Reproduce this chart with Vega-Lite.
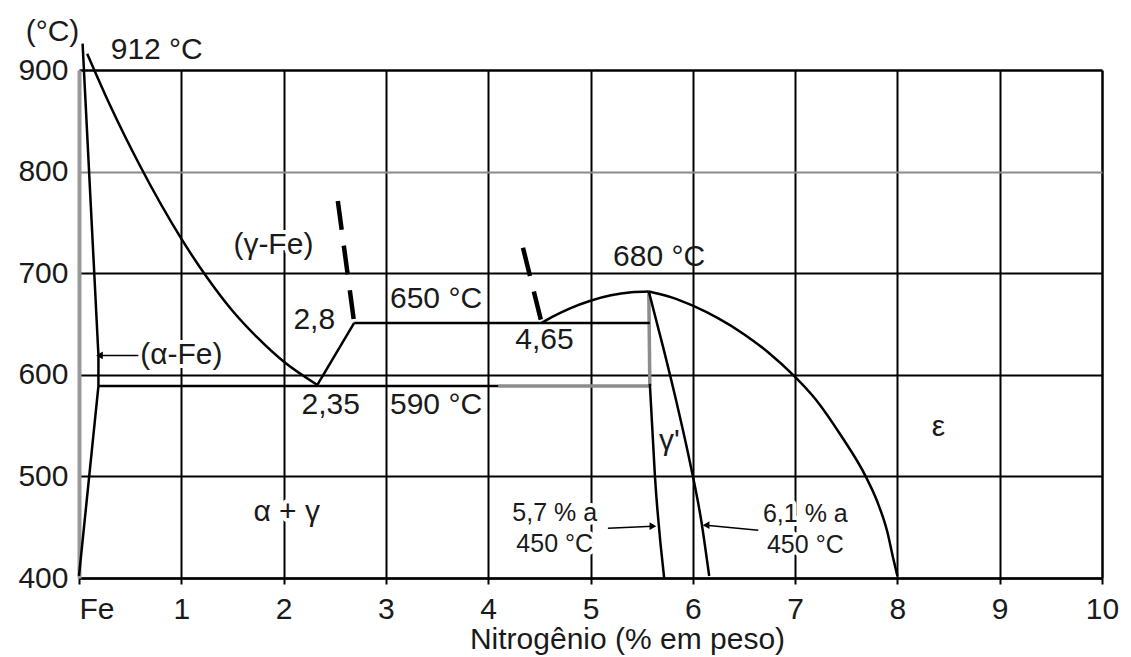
{
  "$schema": "https://vega.github.io/schema/vega-lite/v6.json",
  "width": 1023,
  "height": 508,
  "autosize": "none",
  "padding": {"left": 79, "top": 70, "right": 29, "bottom": 79},
  "background": "white",
  "config": {
    "font": "Liberation Sans",
    "view": {"stroke": null}
  },
  "datasets": {
    "curves": [
      {"s": "alpha", "x": 0.035, "t": 926},
      {"s": "alpha", "x": 0.19, "t": 619},
      {"s": "alpha", "x": 0.19, "t": 589},
      {"s": "alpha", "x": 0.0, "t": 402},
      {"s": "gamma", "x": 0.08, "t": 916},
      {"s": "gamma", "x": 0.3, "t": 866},
      {"s": "gamma", "x": 0.6, "t": 805},
      {"s": "gamma", "x": 1.0, "t": 734},
      {"s": "gamma", "x": 1.25, "t": 696},
      {"s": "gamma", "x": 1.5, "t": 663},
      {"s": "gamma", "x": 1.75, "t": 636},
      {"s": "gamma", "x": 2.0, "t": 613},
      {"s": "gamma", "x": 2.33, "t": 590},
      {"s": "v28", "x": 2.33, "t": 590},
      {"s": "v28", "x": 2.69, "t": 651},
      {"s": "h650", "x": 2.69, "t": 651},
      {"s": "h650", "x": 5.58, "t": 651},
      {"s": "hump", "x": 4.52, "t": 651},
      {"s": "hump", "x": 4.65, "t": 658.2},
      {"s": "hump", "x": 4.8, "t": 665.4},
      {"s": "hump", "x": 5.0, "t": 672.9},
      {"s": "hump", "x": 5.2, "t": 678.2},
      {"s": "hump", "x": 5.4, "t": 681.2},
      {"s": "hump", "x": 5.57, "t": 682},
      {"s": "vgray", "x": 5.57, "t": 682},
      {"s": "vgray", "x": 5.58, "t": 589},
      {"s": "h590a", "x": 0.19, "t": 589},
      {"s": "h590a", "x": 4.1, "t": 589},
      {"s": "h590b", "x": 4.1, "t": 589},
      {"s": "h590b", "x": 5.58, "t": 589},
      {"s": "gpl", "x": 5.58, "t": 591},
      {"s": "gpl", "x": 5.63, "t": 500},
      {"s": "gpl", "x": 5.72, "t": 400},
      {"s": "gp", "x": 5.57, "t": 682},
      {"s": "gp", "x": 5.713, "t": 626},
      {"s": "gp", "x": 5.848, "t": 570},
      {"s": "gp", "x": 5.972, "t": 514},
      {"s": "gp", "x": 6.08, "t": 458},
      {"s": "gp", "x": 6.16, "t": 402},
      {"s": "eps", "x": 5.57, "t": 682},
      {"s": "eps", "x": 5.8, "t": 676},
      {"s": "eps", "x": 6.0, "t": 668},
      {"s": "eps", "x": 6.25, "t": 655.5},
      {"s": "eps", "x": 6.5, "t": 640},
      {"s": "eps", "x": 6.75, "t": 621},
      {"s": "eps", "x": 6.98, "t": 600},
      {"s": "eps", "x": 7.2, "t": 576},
      {"s": "eps", "x": 7.45, "t": 540},
      {"s": "eps", "x": 7.69, "t": 500},
      {"s": "eps", "x": 7.8, "t": 476},
      {"s": "eps", "x": 7.9, "t": 446},
      {"s": "eps", "x": 7.96, "t": 419},
      {"s": "eps", "x": 8.0, "t": 402},
      {"s": "d1", "x": 2.53, "t": 771},
      {"s": "d1", "x": 2.69, "t": 651},
      {"s": "d2", "x": 4.34, "t": 725},
      {"s": "d2", "x": 4.52, "t": 652}
    ],
    "arrows": [
      {"dir": "left", "x": 0.2, "t": 619, "x2": 0.58, "t2": 619},
      {"dir": "right", "x": 5.61, "t": 451, "x2": 5.17, "t2": 449},
      {"dir": "left", "x": 6.13, "t": 452, "x2": 6.64, "t2": 447}
    ],
    "labels": [
      {"label": "912 °C", "x": 0.76, "t": 920},
      {"label": "(γ-Fe)", "x": 1.9, "t": 728},
      {"label": "(α-Fe)", "x": 1.0, "t": 619},
      {"label": "2,8", "x": 2.3, "t": 654},
      {"label": "650 °C", "x": 3.49, "t": 675},
      {"label": "4,65", "x": 4.55, "t": 634},
      {"label": "2,35", "x": 2.46, "t": 570},
      {"label": "590 °C", "x": 3.49, "t": 570},
      {"label": "680 °C", "x": 5.67, "t": 716},
      {"label": "γ'", "x": 5.77, "t": 535},
      {"label": "ε", "x": 8.4, "t": 549},
      {"label": "α + γ", "x": 2.03, "t": 465},
      {"label": "5,7 % a", "x": 4.65, "t": 464},
      {"label": "450 °C", "x": 4.65, "t": 433},
      {"label": "6,1 % a", "x": 7.1, "t": 463},
      {"label": "450 °C", "x": 7.1, "t": 432}
    ]
  },
  "encoding": {
    "x": {
      "field": "x",
      "type": "quantitative",
      "scale": {"domain": [0, 10], "nice": false, "zero": false},
      "axis": {
        "values": [0, 1, 2, 3, 4, 5, 6, 7, 8, 9, 10],
        "labelExpr": "datum.value == 0 ? 'Fe' : datum.label",
        "labelAlign": {"condition": {"test": "datum.value == 0", "value": "left"}, "value": "center"},
        "labelFlush": false,
        "labelOverlap": false,
        "labelFontSize": 30,
        "labelColor": "#1a1a1a",
        "labelPadding": 10,
        "domain": true,
        "domainColor": "black",
        "domainWidth": 2.5,
        "ticks": true,
        "tickColor": "black",
        "tickWidth": 2,
        "tickSize": 6,
        "grid": true,
        "gridColor": "black",
        "gridWidth": {"condition": {"test": "datum.value == 10", "value": 2.5}, "value": 2},
        "gridOpacity": {"condition": {"test": "datum.value == 0", "value": 0}, "value": 1},
        "title": "Nitrogênio (% em peso)",
        "titleFontSize": 30,
        "titleFontWeight": "normal",
        "titleColor": "#1a1a1a",
        "titleX": 548,
        "titleY": 70,
        "titleAlign": "center",
        "titleBaseline": "alphabetic"
      }
    },
    "y": {
      "field": "t",
      "type": "quantitative",
      "scale": {"domain": [400, 900], "nice": false, "zero": false},
      "axis": {
        "values": [400, 500, 600, 700, 800, 900],
        "labelFontSize": 30,
        "labelColor": "#1a1a1a",
        "labelPadding": 11,
        "labelOverlap": false,
        "ticks": false,
        "domain": true,
        "domainColor": "#999999",
        "domainWidth": 4,
        "grid": true,
        "gridColor": {"condition": {"test": "datum.value == 800", "value": "#8a8a8a"}, "value": "black"},
        "gridWidth": {"condition": {"test": "datum.value == 900", "value": 2.5}, "value": 2},
        "title": "(°C)",
        "titleAngle": 0,
        "titleFontSize": 30,
        "titleFontWeight": "normal",
        "titleColor": "#1a1a1a",
        "titleX": -27,
        "titleY": -39,
        "titleAlign": "center",
        "titleBaseline": "middle"
      }
    }
  },
  "layer": [
    {
      "data": {"name": "labels"},
      "transform": [{"filter": {"field": "label", "oneOf": ["(α-Fe)", "(γ-Fe)", "2,35", "α + γ"]}}],
      "mark": {"type": "text", "fontSize": 30, "fill": "white", "stroke": "white", "strokeWidth": 8, "strokeJoin": "round", "align": "center", "baseline": "middle"},
      "encoding": {"text": {"field": "label"}}
    },
    {
      "data": {"name": "labels"},
      "transform": [{"filter": {"field": "label", "oneOf": ["5,7 % a", "6,1 % a", "450 °C"]}}],
      "mark": {"type": "text", "fontSize": 25, "fill": "white", "stroke": "white", "strokeWidth": 8, "strokeJoin": "round", "align": "center", "baseline": "middle"},
      "encoding": {"text": {"field": "label"}}
    },
    {
      "data": {"name": "curves"},
      "transform": [{"filter": {"field": "s", "oneOf": ["vgray", "h590b"]}}],
      "mark": {"type": "line", "interpolate": "linear", "color": "#8c8c8c", "strokeWidth": 3.5},
      "encoding": {"detail": {"field": "s"}, "order": {"value": null}}
    },
    {
      "data": {"name": "curves"},
      "transform": [{"filter": {"field": "s", "oneOf": ["alpha", "v28", "h650", "h590a"]}}],
      "mark": {"type": "line", "interpolate": "linear", "color": "black", "strokeWidth": 2.5},
      "encoding": {"detail": {"field": "s"}, "order": {"value": null}}
    },
    {
      "data": {"name": "curves"},
      "transform": [{"filter": {"field": "s", "oneOf": ["gamma", "hump", "gp", "eps", "gpl"]}}],
      "mark": {"type": "line", "interpolate": "monotone", "color": "black", "strokeWidth": 2.5},
      "encoding": {"detail": {"field": "s"}, "order": {"value": null}}
    },
    {
      "data": {"name": "curves"},
      "transform": [{"filter": {"field": "s", "oneOf": ["d1", "d2"]}}],
      "mark": {"type": "line", "interpolate": "linear", "color": "black", "strokeWidth": 4.5, "strokeDash": [29, 16], "strokeCap": "butt"},
      "encoding": {"detail": {"field": "s"}, "order": {"value": null}}
    },
    {
      "data": {"name": "arrows"},
      "mark": {"type": "rule", "color": "black", "strokeWidth": 1.5},
      "encoding": {"x2": {"field": "x2"}, "y2": {"field": "t2"}}
    },
    {
      "data": {"name": "arrows"},
      "mark": {"type": "point", "filled": true, "color": "black", "size": 60, "opacity": 1},
      "encoding": {
        "shape": {"field": "dir", "type": "nominal", "scale": {"domain": ["left", "right"], "range": ["triangle-left", "triangle-right"]}, "legend": null}
      }
    },
    {
      "data": {"name": "labels"},
      "transform": [{"filter": {"not": {"field": "label", "oneOf": ["5,7 % a", "6,1 % a", "450 °C"]}}}],
      "mark": {"type": "text", "fontSize": 30, "color": "#1a1a1a", "align": "center", "baseline": "middle"},
      "encoding": {"text": {"field": "label"}}
    },
    {
      "data": {"name": "labels"},
      "transform": [{"filter": {"field": "label", "oneOf": ["5,7 % a", "6,1 % a", "450 °C"]}}],
      "mark": {"type": "text", "fontSize": 25, "color": "#1a1a1a", "align": "center", "baseline": "middle"},
      "encoding": {"text": {"field": "label"}}
    }
  ]
}
